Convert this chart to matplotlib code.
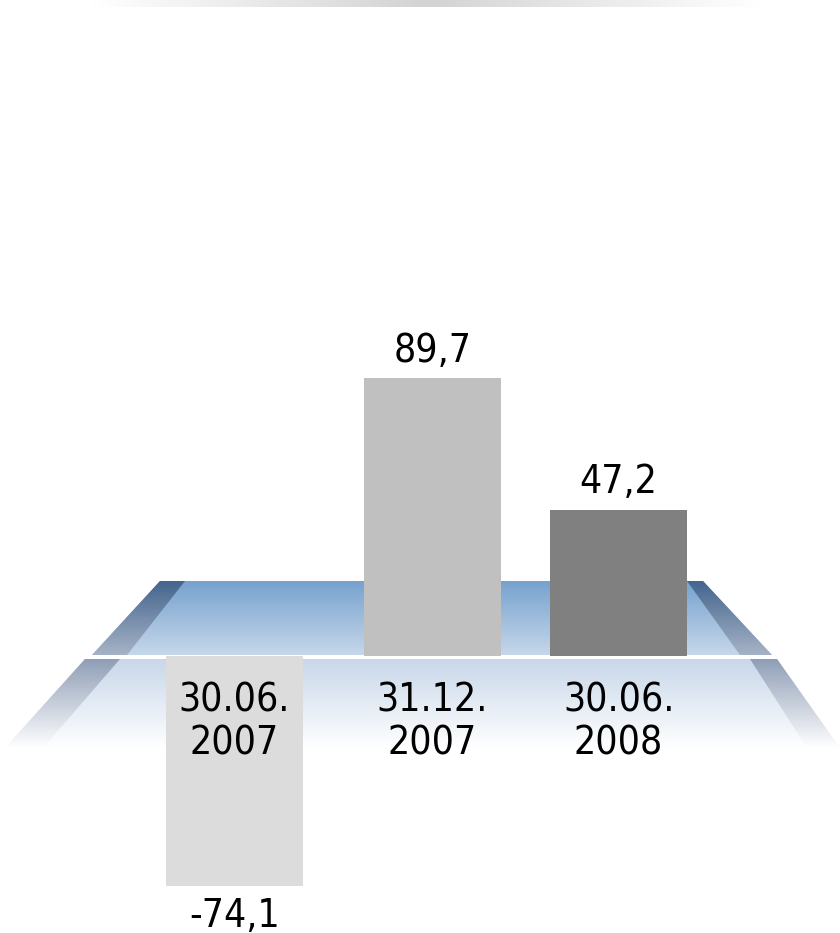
import numpy as np
import matplotlib.pyplot as plt
from matplotlib.patches import Polygon
from matplotlib.colors import LinearSegmentedColormap

categories = ['30.06.\n2007', '31.12.\n2007', '30.06.\n2008']
values = [-74.1, 89.7, 47.2]
value_labels = ['-74,1', '89,7', '47,2']
bar_colors = ['#dcdcdc', '#c0c0c0', '#808080']

plt.rcParams['font.family'] = ['DejaVu Sans']
plt.rcParams['font.stretch'] = 'condensed'

W, H = 840, 933
fig = plt.figure(figsize=(W / 100, H / 100), dpi=100)

# background decoration in pixel coordinates
bg = fig.add_axes([0, 0, 1, 1])
bg.set_xlim(0, W)
bg.set_ylim(H, 0)
bg.axis('off')


def grad_poly(pts, c_top, c_bot):
    pts = np.array(pts, dtype=float)
    x0, x1 = pts[:, 0].min(), pts[:, 0].max()
    y0, y1 = pts[:, 1].min(), pts[:, 1].max()
    cmap = LinearSegmentedColormap.from_list('g', [c_top, c_bot])
    g = np.linspace(0, 1, 256).reshape(-1, 1)
    im = bg.imshow(g, cmap=cmap, extent=(x0, x1, y1, y0), aspect='auto',
                   interpolation='bicubic', zorder=0)
    poly = Polygon(pts, closed=True, facecolor='none', edgecolor='none')
    bg.add_patch(poly)
    im.set_clip_path(poly)


# top face of the platform
grad_poly([(160, 581), (703, 581), (772, 655), (92, 655)], '#76a2ce', '#c6d7ea')
grad_poly([(160, 581), (185, 581), (127, 655), (92, 655)], '#44658e', '#a6b3c6')
grad_poly([(687, 581), (703, 581), (772, 655), (740, 655)], '#44658e', '#a6b3c6')
# front part below the white line
grad_poly([(85, 659), (777, 659), (840, 748), (5, 748)], '#c8d7e9', '#ffffff')
grad_poly([(85, 659), (120, 659), (43, 748), (5, 748)], '#8f9eb6', '#ffffff')
grad_poly([(750, 659), (777, 659), (840, 748), (807, 748)], '#8f9eb6', '#ffffff')

# faded grey band at the top
cm_top = LinearSegmentedColormap.from_list('t', ['#ffffff', '#d3d3d3', '#ffffff'])
bg.imshow(np.linspace(0, 1, 256).reshape(1, -1), cmap=cm_top,
          extent=(92, 760, 7, 0), aspect='auto', zorder=0)

# bar chart in data coordinates
ax = fig.add_axes([0, 0, 1, 1])
ax.patch.set_alpha(0)
ax.axis('off')
px_per_unit = 3.1
zero_px = 656
ax.set_ylim(-(H - zero_px) / px_per_unit, zero_px / px_per_unit)
step = 198
x0_px = 234.5
ax.set_xlim(-x0_px / step, (W - x0_px) / step)

x = np.array([0, 1, 1.94])
bars = ax.bar(x, values, width=137 / step, color=bar_colors, zorder=2)

for xi, v, lab in zip(x, values, value_labels):
    if v >= 0:
        ax.annotate(lab, (xi, v), xytext=(0, 6), textcoords='offset points',
                    ha='center', va='bottom', fontsize=28, color='black')
    else:
        ax.annotate(lab, (xi, v), xytext=(0, -8), textcoords='offset points',
                    ha='center', va='top', fontsize=28, color='black')

for xi, cat in zip(x, categories):
    ax.annotate(cat, (xi, 0), xytext=(0, -18), textcoords='offset points',
                ha='center', va='top', fontsize=28, color='black',
                linespacing=1.17, zorder=3)

fig.savefig('out.png', dpi=100)
